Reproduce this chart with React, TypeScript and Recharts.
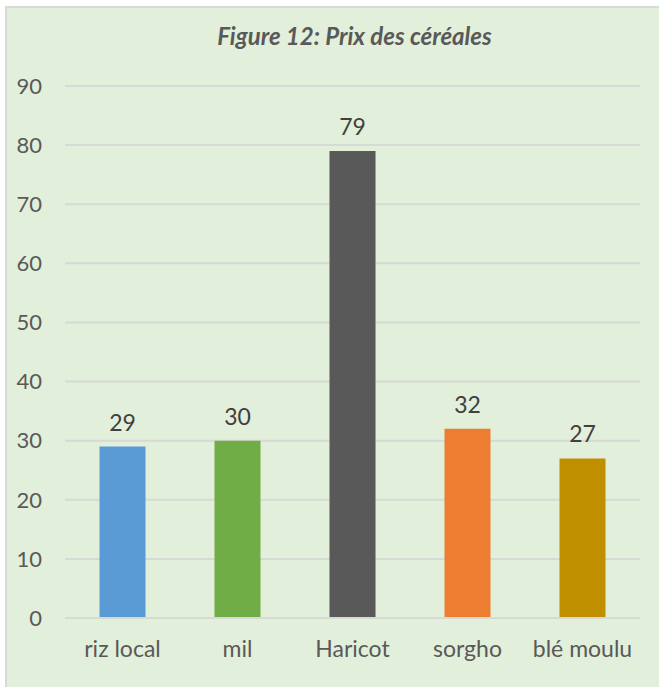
import React from 'react';
import { BarChart, Bar, XAxis, YAxis, CartesianGrid, Cell, LabelList } from 'recharts';

const categories = ['riz local', 'mil', 'Haricot', 'sorgho', 'blé moulu'];
const prices = [29, 30, 79, 32, 27];
const barColors = ['#5B9BD5', '#70AD47', '#595959', '#ED7D31', '#BF8F00'];
const yTicks = [0, 10, 20, 30, 40, 50, 60, 70, 80, 90];
const title = 'Figure 12: Prix des céréales';

const data = categories.map((name, i) => ({ name, value: prices[i] }));

export default function App() {
  return (
    <div style={{ position: 'absolute', left: 0, top: 0, width: 659, height: 687, overflow: 'hidden', background: '#fff' }}>
      <div
        style={{
          position: 'absolute',
          left: 5,
          top: 6,
          width: 720,
          height: 720,
          background: '#E2EFDA',
          border: '2px solid #D9D9D9',
        }}
      />
      <div
        style={{
          position: 'absolute',
          left: 0,
          width: 709,
          top: 21,
          textAlign: 'center',
          fontFamily: 'Lato',
          fontStyle: 'italic',
          fontWeight: 700,
          fontSize: 24,
          color: '#595959',
          lineHeight: '30px',
          whiteSpace: 'nowrap',
        }}
      >
        {title}
      </div>
      <div style={{ position: 'absolute', left: 0, top: 0 }}>
        <BarChart
          width={659}
          height={687}
          data={data}
          margin={{ top: 86, right: 19, bottom: 39, left: 0 }}
          barCategoryGap="30%"
        >
          <CartesianGrid vertical={false} stroke="#D6D9D4" strokeWidth={2} />
          <XAxis
            dataKey="name"
            height={30}
            tickLine={false}
            axisLine={{ stroke: '#D6D9D4', strokeWidth: 2 }}
            tickSize={0}
            tickMargin={23}
            tick={{ fill: '#595959', fontSize: 23, fontFamily: 'Lato' }}
            interval={0}
          />
          <YAxis
            width={65}
            domain={[0, 90]}
            ticks={yTicks}
            tickLine={false}
            axisLine={false}
            tickSize={0}
            tickMargin={23}
            tick={{ fill: '#595959', fontSize: 22, fontFamily: 'Lato' }}
          />
          <Bar dataKey="value" isAnimationActive={false}>
            {data.map((d, i) => (
              <Cell key={d.name} fill={barColors[i]} />
            ))}
            <LabelList dataKey="value" position="top" offset={16} fill="#404040" fontSize={23} fontFamily="Lato" />
          </Bar>
        </BarChart>
      </div>
    </div>
  );
}
